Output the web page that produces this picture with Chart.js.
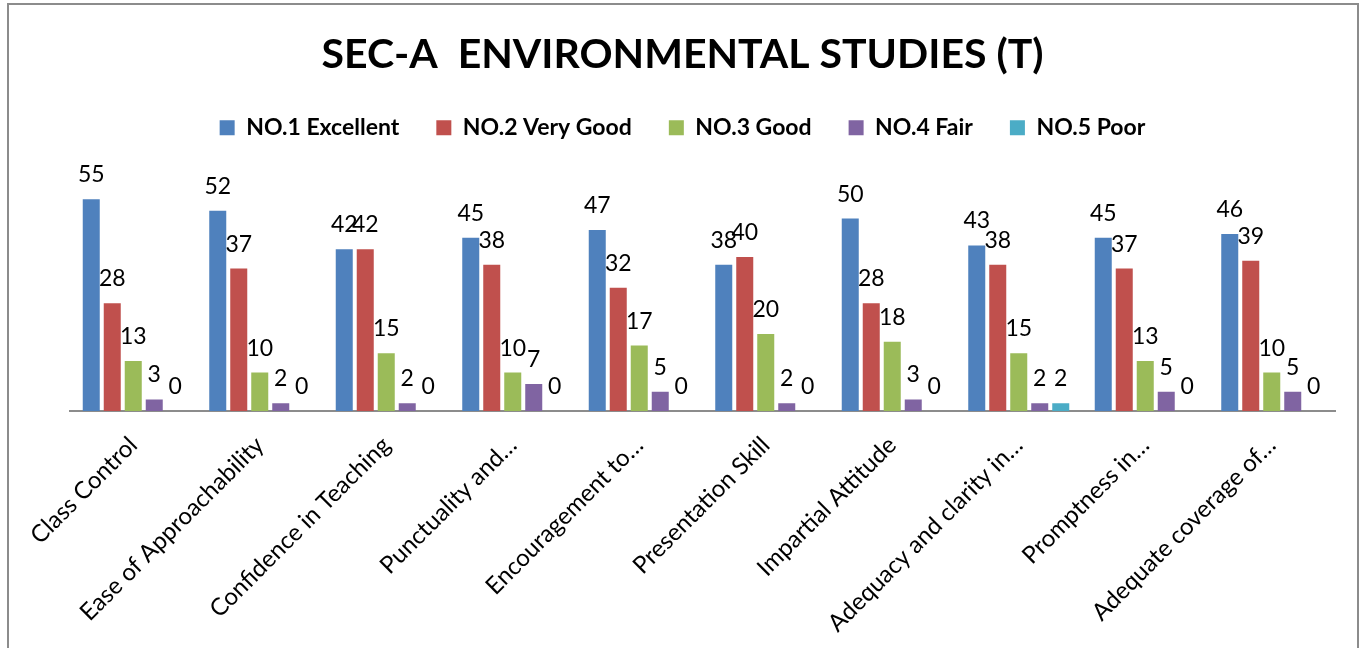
<!DOCTYPE html>
<html>
<head>
<meta charset="utf-8">
<title>SEC-A Environmental Studies (T)</title>
<script src="https://cdn.jsdelivr.net/npm/chart.js@4.4.1/dist/chart.umd.min.js"></script>
<style>
    body { margin: 0; background: #ffffff; }
    #wrap { position: relative; width: 1365px; height: 648px; }
</style>
</head>
<body>
<div id="wrap">
    <canvas id="feedbackChart" width="1365" height="648"></canvas>
</div>
<script>
// Categories (x axis)
var categories = [
    "Class Control",
    "Ease of Approachability",
    "Confidence in Teaching",
    "Punctuality and\u2026",
    "Encouragement to\u2026",
    "Presentation Skill",
    "Impartial Attitude",
    "Adequacy and clarity in\u2026",
    "Promptness in\u2026",
    "Adequate coverage of\u2026"
];

// Series values
var excellent = [55, 52, 42, 45, 47, 38, 50, 43, 45, 46];
var veryGood  = [28, 37, 42, 38, 32, 40, 28, 38, 37, 39];
var good      = [13, 10, 15, 10, 17, 20, 18, 15, 13, 10];
var fair      = [3, 2, 2, 7, 5, 2, 3, 2, 5, 5];
var poor      = [0, 0, 0, 0, 0, 0, 0, 2, 0, 0];

var seriesNames = ["NO.1 Excellent", "NO.2 Very Good", "NO.3 Good", "NO.4 Fair", "NO.5 Poor"];
var seriesColors = ["#4F81BD", "#C0504D", "#9BBB59", "#8064A2", "#4BACC6"];

var FONT = "Lato, 'Liberation Sans', sans-serif";

// Draws value labels above each bar (Excel "outside end")
var valueLabels = {
    id: 'valueLabels',
    afterDatasetsDraw: function (chart) {
        var ctx = chart.ctx;
        ctx.save();
        ctx.font = "23px " + FONT;
        ctx.fillStyle = "#000000";
        ctx.textAlign = "center";
        ctx.textBaseline = "alphabetic";
        chart.data.datasets.forEach(function (ds, i) {
            var meta = chart.getDatasetMeta(i);
            meta.data.forEach(function (bar, j) {
                ctx.fillText(String(ds.data[j]), bar.x, bar.y - 17);
            });
        });
        ctx.restore();
    }
};

// Thin grey frame round the chart, as in the spreadsheet export
var chartFrame = {
    id: 'chartFrame',
    beforeDraw: function (chart) {
        var ctx = chart.ctx;
        ctx.save();
        ctx.strokeStyle = "#8c8c8c";
        ctx.lineWidth = 2;
        ctx.strokeRect(8, 4, 1350, 700);
        ctx.restore();
    }
};

var allSeries = [excellent, veryGood, good, fair, poor];
var datasets = allSeries.map(function (values, i) {
    return {
        label: seriesNames[i],
        data: values,
        backgroundColor: seriesColors[i],
        borderWidth: 0,
        barPercentage: 0.81,
        categoryPercentage: 0.83
    };
});

var ctx = document.getElementById('feedbackChart').getContext('2d');
new Chart(ctx, {
    type: 'bar',
    data: {
        labels: categories,
        datasets: datasets
    },
    options: {
        responsive: false,
        animation: false,
        layout: {
            padding: { left: 30, right: 30, top: 0, bottom: 0 }
        },
        plugins: {
            title: {
                display: true,
                text: "SEC-A  ENVIRONMENTAL STUDIES (T)",
                color: "#000000",
                font: { family: FONT, size: 41, weight: 'bold' },
                padding: { top: 30, bottom: 0 }
            },
            legend: {
                display: true,
                position: 'top',
                labels: {
                    color: "#000000",
                    font: { family: FONT, size: 23, weight: 'bold' },
                    boxWidth: 15,
                    boxHeight: 15,
                    padding: 37
                }
            },
            tooltip: { enabled: false }
        },
        scales: {
            x: {
                grid: { display: false, drawTicks: false },
                border: { display: true, color: "#8c8c8c", width: 2 },
                ticks: {
                    color: "#000000",
                    font: { family: FONT, size: 24 },
                    minRotation: 45,
                    maxRotation: 45,
                    autoSkip: false,
                    padding: 20
                },
                afterFit: function (scale) {
                    scale.height = 237;
                }
            },
            y: {
                display: true,
                min: 0,
                max: 68,
                grid: { display: false },
                border: { display: false },
                ticks: { display: false },
                afterFit: function (scale) {
                    scale.width = 40;
                }
            }
        }
    },
    plugins: [chartFrame, valueLabels]
});
</script>
</body>
</html>
